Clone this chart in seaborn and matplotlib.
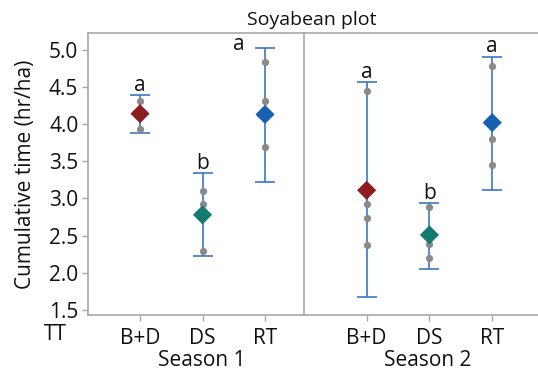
import matplotlib
matplotlib.use("Agg")
import matplotlib.pyplot as plt
import seaborn as sns
import pandas as pd

# ---- data ----
treatments = ["B+D", "DS", "RT"]
seasons = ["Season 1", "Season 2"]

points_s1 = {"B+D": [4.31, 4.19, 3.93], "DS": [3.10, 2.92, 2.30], "RT": [4.84, 4.31, 3.69]}
points_s2 = {"B+D": [4.45, 2.92, 2.74, 2.38], "DS": [2.88, 2.39, 2.20], "RT": [4.78, 3.80, 3.45]}

means_s1 = [4.14, 2.78, 4.13]
means_s2 = [3.11, 2.51, 4.02]
lower_s1 = [3.875, 2.225, 3.224]
lower_s2 = [1.669, 2.05, 3.117]
upper_s1 = [4.39, 3.336, 5.02]
upper_s2 = [4.561, 2.942, 4.906]
letters_s1 = ["a", "b", "a"]
letters_s2 = ["a", "b", "a"]
yticks = [1.5, 2.0, 2.5, 3.0, 3.5, 4.0, 4.5, 5.0]

colors = {"B+D": "#8E1B20", "DS": "#127A6E", "RT": "#1661B1"}
err_color = "#3A78C2"
pt_color = "#8A8A8A"
spine_color = "#A8A8A8"
txt = "#111111"

sns.set_theme(style="white")
plt.rcParams["font.family"] = ["Open Sans", "DejaVu Sans"]

fig = plt.figure(figsize=(5.38, 3.71), dpi=100)
W, H = 538, 371
def rect(l, t, r, b):
    return [l / W, 1 - b / H, (r - l) / W, (b - t) / H]

ax1 = fig.add_axes(rect(88, 33, 304, 315))
ax2 = fig.add_axes(rect(304, 33, 560, 315))

panels = [
    (ax1, points_s1, means_s1, lower_s1, upper_s1, letters_s1, (-0.832, 2.624)),
    (ax2, points_s2, means_s2, lower_s2, upper_s2, letters_s2, (-0.998, 3.08)),
]

for i, (ax, pts, means, lo, hi, letters, xlim) in enumerate(panels):
    rows = [(t, v) for t in treatments for v in pts[t]]
    df_pts = pd.DataFrame(rows, columns=["TT", "value"])
    df_mean = pd.DataFrame({"TT": treatments, "mean": means, "lo": lo, "hi": hi})

    xs = list(range(len(treatments)))
    ax.errorbar(xs, df_mean["mean"],
                yerr=[df_mean["mean"] - df_mean["lo"], df_mean["hi"] - df_mean["mean"]],
                fmt="none", ecolor=err_color, elinewidth=1.2, capsize=7.5, capthick=1.2, zorder=1)
    sns.stripplot(data=df_pts, x="TT", y="value", order=treatments, ax=ax, jitter=False,
                  color=pt_color, size=5.2, linewidth=0, zorder=2)
    sns.scatterplot(data=df_mean, x="TT", y="mean", hue="TT", palette=colors, ax=ax,
                    marker="D", s=95, linewidth=0, legend=False, zorder=3)
    for j, t in enumerate(treatments):
        if i == 0 and t == "RT":
            ax.text(j - 0.42, hi[j] - 0.09, letters[j], ha="center", va="bottom", fontsize=15, color=txt)
        else:
            ax.text(j, hi[j] - 0.01, letters[j], ha="center", va="bottom", fontsize=15, color=txt)

    ax.set_xlim(*xlim)
    ax.set_ylim(1.433, 5.225)
    ax.set_xlabel(seasons[i], fontsize=15, labelpad=1, color=txt)
    ax.set_ylabel("")
    ax.tick_params(axis="x", length=4, width=1, color=spine_color, labelsize=15,
                   labelcolor=txt, pad=5, bottom=True)
    for s in ax.spines.values():
        s.set_color(spine_color)
        s.set_linewidth(1.2)
    ax.spines["right"].set_visible(False)

ax1.set_yticks(yticks)
ax1.set_yticklabels([f"{v:.1f}" for v in yticks])
ax1.tick_params(axis="y", length=4, width=1, color=spine_color, labelsize=15,
                labelcolor=txt, pad=3, left=True)
ax1.set_ylabel("Cumulative time (hr/ha)", fontsize=15, color=txt, labelpad=9)
ax2.set_yticks([])
ax2.xaxis.label.set_position(((428 - 304) / 256, 0))
ax1.xaxis.label.set_position(((202 - 88) / 216, 0))

fig.text(55 / W, 1 - 334 / H, "TT", ha="center", va="center", fontsize=15, color=txt)
fig.text(312 / W, 1 - 20 / H, "Soyabean plot", ha="center", va="center", fontsize=14, color=txt)

fig.savefig("out.png", dpi=100)
